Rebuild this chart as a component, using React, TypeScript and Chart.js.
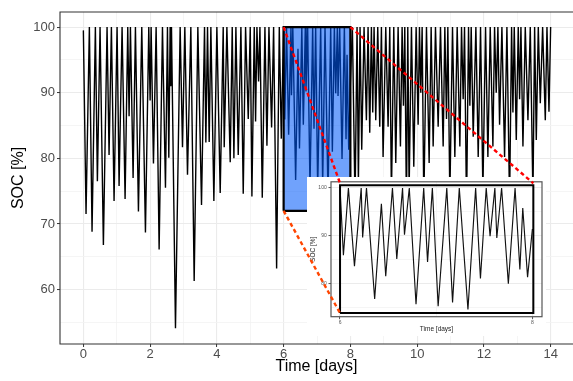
import React, { useEffect, useRef } from 'react';
import { Chart, registerables } from 'chart.js';

Chart.register(...registerables);

// ---- data (time in days, state of charge in %) ----
const socTime = [
  0.00, 0.08, 0.18, 0.26, 0.36, 0.42, 0.50, 0.60, 0.71, 0.77, 0.84, 0.92, 1.01, 1.07, 1.16, 1.25,
  1.33, 1.37, 1.41, 1.49, 1.56, 1.65, 1.75, 1.86, 1.96, 2.00, 2.03, 2.10, 2.18, 2.27, 2.37, 2.46,
  2.52, 2.56, 2.60, 2.62, 2.64, 2.76, 2.90, 2.97, 3.04, 3.12, 3.22, 3.32, 3.43, 3.54, 3.63, 3.67,
  3.72, 3.77, 3.82, 3.91, 4.00, 4.10, 4.19, 4.22, 4.30, 4.40, 4.46, 4.51, 4.57, 4.64, 4.72, 4.79,
  4.86, 4.94, 5.00, 5.05, 5.12, 5.16, 5.20, 5.25, 5.29, 5.36, 5.44, 5.50, 5.56, 5.64, 5.70, 5.79,
  5.87, 5.93,
  6.00, 6.035, 6.087, 6.15, 6.22, 6.235, 6.275, 6.36, 6.43, 6.475, 6.545, 6.59, 6.65, 6.67, 6.72,
  6.79, 6.87, 6.91, 6.96, 7.02, 7.11, 7.17, 7.24, 7.33, 7.41, 7.46, 7.52, 7.56, 7.61, 7.63, 7.68,
  7.75, 7.82, 7.87, 7.90, 7.95, 8.00,
  8.06, 8.14, 8.20, 8.24, 8.29, 8.34, 8.41, 8.48, 8.53, 8.58, 8.63, 8.67, 8.71, 8.76, 8.82, 8.88,
  8.93, 8.98, 9.06, 9.13, 9.18, 9.23, 9.30, 9.36, 9.43, 9.50, 9.55, 9.59, 9.63, 9.68, 9.72, 9.76,
  9.83, 9.90, 9.97, 10.03, 10.07, 10.11, 10.15, 10.20, 10.28, 10.36, 10.42, 10.48, 10.55, 10.63,
  10.70, 10.78, 10.83, 10.88, 10.92, 10.98, 11.06, 11.13, 11.20, 11.28, 11.33, 11.38, 11.42, 11.48,
  11.54, 11.58, 11.62, 11.68, 11.76, 11.83, 11.90, 11.97, 12.05, 12.12, 12.19, 12.27, 12.32, 12.37,
  12.42, 12.47, 12.54, 12.62, 12.69, 12.77, 12.83, 12.87, 12.91, 12.97, 13.03, 13.07, 13.11, 13.17,
  13.24, 13.32, 13.39, 13.47, 13.52, 13.57, 13.63, 13.69, 13.76, 13.84, 13.89, 13.95, 14.00,
];
const socValue = [
  99.5, 71.5, 100, 68.8, 100, 76.5, 100, 66.8, 100, 80.5, 100, 73.5, 100, 75.8, 100, 73.8,
  100, 86.4, 100, 77.0, 100, 71.9, 100, 68.7, 100, 88.8, 100, 79.2, 100, 66.1, 100, 75.5,
  100, 80.1, 100, 91.0, 100, 54.1, 100, 81.7, 100, 77.5, 100, 61.3, 100, 72.9, 100, 82.4,
  100, 82.5, 100, 73.5, 100, 74.7, 100, 81.7, 100, 79.4, 100, 80.0, 100, 80.5, 100, 74.6,
  100, 86.0, 100, 74.2, 100, 85.6, 100, 91.7, 100, 74.0, 100, 81.9, 100, 84.7, 100, 63.2,
  100, 83.0,
  100, 85.9, 100, 83.6, 100, 89.6, 100, 76.7, 96.7, 81.5, 100, 85.1, 100, 90.2, 100,
  75.6, 100, 84.5, 100, 75.2, 100, 76.0, 100, 74.5, 100, 81.0, 100, 89.9, 100, 89.5, 100,
  79.9, 100, 82.9, 95.8, 81.3, 91.4,
  100, 73.0, 100, 76.0, 100, 81.3, 100, 85.8, 100, 83.9, 100, 87.0, 100, 85.8, 100, 84.8,
  100, 80.2, 100, 84.8, 100, 74.0, 100, 79.3, 100, 81.8, 100, 88.0, 100, 72.0, 100, 75.0,
  100, 78.7, 100, 85.1, 100, 90.0, 100, 73.0, 100, 79.3, 100, 81.8, 100, 84.8,
  100, 81.8, 100, 86.0, 100, 74.0, 100, 80.2, 100, 81.8, 100, 89.0, 100, 72.0,
  100, 88.0, 100, 83.3, 100, 80.2, 100, 75.0, 100, 80.2, 100, 81.8, 100, 90.0,
  100, 85.1, 100, 80.2, 100, 73.0, 100, 87.0, 100, 82.8, 100, 89.0, 100, 81.8,
  100, 85.8, 100, 74.0, 100, 82.8, 100, 88.4, 100, 85.8, 100, 87.1, 100,
];

// ---- axes / ticks ----
const mainXRange = [-0.7, 14.67];
const mainYRange = [51.7, 102.3];
const mainXTicks = [0, 1, 2, 3, 4, 5, 6, 7, 8, 9, 10, 11, 12, 13, 14];
const mainXLabels = [0, 2, 4, 6, 8, 10, 12, 14];
const mainYTicks = [55, 60, 65, 70, 75, 80, 85, 90, 95, 100];
const mainYLabels = [60, 70, 80, 90, 100];

const insetXRange = [5.906, 8.1];
const insetYRange = [73.0, 101.3];
const insetXTicks = [6, 7, 8];
const insetXLabels = [6, 8];
const insetYTicks = [75, 80, 85, 90, 95, 100];
const insetYLabels = [80, 90, 100];

// ---- zoom window (main) and frame drawn in the inset ----
const zoomX = [6, 8];
const zoomY = [72, 100];
const insetFrameX = [6, 8.01];
const insetFrameY = [73.75, 100.6];

// connectors: main-chart point -> inset-chart point
const connectorFrom = [[6, 100], [8, 100], [6, 72]];
const connectorTo = [[6, 101.0], [8.01, 101.0], [6, 73.75]];

const FONT = "'Liberation Sans', Arial, Helvetica, sans-serif";

// layout (pixels)
const W = 573;
const H = 381;
const INSET_LEFT = 307;
const INSET_TOP = 177;
const INSET_W = 239;
const INSET_H = 159;

function axis(o: any) {
  const isMajor = (ctx: any) => ctx.tick && o.labels.includes(ctx.tick.value);
  return {
    type: 'linear',
    display: true,
    min: o.range[0],
    max: o.range[1],
    afterBuildTicks: (s: any) => {
      s.ticks = o.ticks.map((v: number) => ({ value: v }));
    },
    afterFit: (s: any) => {
      if (o.isX) s.height = o.size;
      else s.width = o.size;
    },
    ticks: {
      autoSkip: false,
      maxRotation: 0,
      minRotation: 0,
      padding: o.pad,
      color: o.labelColor,
      font: { family: FONT, size: o.fontSize },
      callback: (v: any) => (o.labels.includes(v) ? String(v) : ''),
    },
    grid: {
      color: (ctx: any) => (isMajor(ctx) ? '#EBEBEB' : '#F3F3F3'),
      lineWidth: (ctx: any) => (isMajor(ctx) ? 1.1 : 0.8),
      drawTicks: true,
      tickLength: o.tickLen,
      tickWidth: 1,
      tickColor: (ctx: any) => (isMajor(ctx) ? o.tickColor : 'rgba(0,0,0,0)'),
    },
    border: { display: false },
    title: {
      display: true,
      text: o.title,
      color: o.titleColor,
      font: { family: FONT, size: o.titleSize },
      padding: o.isX ? { top: 0, bottom: o.titlePad } : { top: o.titlePad, bottom: 0 },
    },
  };
}

export default function App() {
  const mainRef = useRef<HTMLCanvasElement>(null);
  const insetRef = useRef<HTMLCanvasElement>(null);
  const overlayRef = useRef<HTMLCanvasElement>(null);

  useEffect(() => {
    const points = socTime.map((t, i) => ({ x: t, y: socValue[i] }));
    const zoomPoints = points.filter((p) => p.x >= zoomX[0] && p.x <= zoomX[1]);

    const mainBorder = {
      id: 'mainBorder',
      afterDraw(chart: any) {
        const { ctx, chartArea: a } = chart;
        ctx.save();
        ctx.strokeStyle = '#333333';
        ctx.lineWidth = 1.1;
        ctx.beginPath();
        ctx.moveTo(a.right + 2, a.top);
        ctx.lineTo(a.left, a.top);
        ctx.lineTo(a.left, a.bottom);
        ctx.lineTo(a.right + 2, a.bottom);
        ctx.stroke();
        ctx.restore();
      },
    };

    const main = new Chart(mainRef.current as HTMLCanvasElement, {
      type: 'line',
      data: {
        datasets: [
          {
            data: points,
            borderColor: '#000000',
            borderWidth: 1.4,
            pointRadius: 0,
            tension: 0,
            fill: false,
            order: 3,
          } as any,
          {
            data: [
              { x: zoomX[0], y: zoomY[1] },
              { x: zoomX[1], y: zoomY[1] },
            ],
            borderWidth: 0,
            borderColor: 'rgba(0,0,0,0)',
            backgroundColor: 'rgba(0, 90, 250, 0.56)',
            pointRadius: 0,
            fill: { value: zoomY[0] },
            order: 2,
          } as any,
          {
            data: [
              { x: zoomX[0], y: zoomY[0] },
              { x: zoomX[0], y: zoomY[1] },
              { x: zoomX[1], y: zoomY[1] },
              { x: zoomX[1], y: zoomY[0] },
              { x: zoomX[0], y: zoomY[0] },
            ],
            borderColor: '#000000',
            borderWidth: 2.2,
            borderJoinStyle: 'miter',
            pointRadius: 0,
            fill: false,
            order: 1,
          } as any,
        ],
      },
      options: {
        animation: false,
        responsive: false,
        events: [],
        layout: { padding: { top: 12, left: 0, right: 0, bottom: 0 } },
        plugins: { legend: { display: false }, tooltip: { enabled: false } },
        scales: {
          x: axis({
            isX: true, range: mainXRange, ticks: mainXTicks, labels: mainXLabels,
            size: 37, pad: 0, tickLen: 3, fontSize: 13, labelColor: '#4D4D4D', tickColor: '#333333',
            title: 'Time [days]', titleSize: 16, titlePad: 4.5, titleColor: '#000000',
          }),
          y: axis({
            isX: false, range: mainYRange, ticks: mainYTicks, labels: mainYLabels,
            size: 60, pad: 2, tickLen: 3, fontSize: 13, labelColor: '#4D4D4D', tickColor: '#333333',
            title: 'SOC [%]', titleSize: 16, titlePad: 8.7, titleColor: '#000000',
          }),
        } as any,
      },
      plugins: [mainBorder],
    });

    const insetDeco = {
      id: 'insetDeco',
      beforeDraw(chart: any) {
        const { ctx, width, height } = chart;
        ctx.save();
        ctx.fillStyle = '#FFFFFF';
        ctx.fillRect(0, 0, width, height);
        ctx.restore();
      },
      afterDraw(chart: any) {
        const { ctx, chartArea: a } = chart;
        ctx.save();
        ctx.strokeStyle = '#555555';
        ctx.lineWidth = 1.2;
        ctx.strokeRect(a.left, a.top, a.right - a.left, a.bottom - a.top);
        ctx.restore();
      },
    };

    const inset = new Chart(insetRef.current as HTMLCanvasElement, {
      type: 'line',
      data: {
        datasets: [
          {
            data: zoomPoints,
            borderColor: '#111111',
            borderWidth: 1.15,
            pointRadius: 0,
            tension: 0,
            fill: false,
            order: 2,
          } as any,
          {
            data: [
              { x: insetFrameX[0], y: insetFrameY[0] },
              { x: insetFrameX[0], y: insetFrameY[1] },
              { x: insetFrameX[1], y: insetFrameY[1] },
              { x: insetFrameX[1], y: insetFrameY[0] },
              { x: insetFrameX[0], y: insetFrameY[0] },
            ],
            borderColor: '#000000',
            borderWidth: 2,
            borderJoinStyle: 'miter',
            pointRadius: 0,
            fill: false,
            order: 1,
          } as any,
        ],
      },
      options: {
        animation: false,
        responsive: false,
        events: [],
        layout: { padding: { top: 4.7, left: 0, right: 4, bottom: 0 } },
        plugins: { legend: { display: false }, tooltip: { enabled: false } },
        scales: {
          x: axis({
            isX: true, range: insetXRange, ticks: insetXTicks, labels: insetXLabels,
            size: 19.3, pad: 0.1, tickLen: 2.5, fontSize: 5, labelColor: '#555555', tickColor: '#555555',
            title: 'Time [days]', titleSize: 6.5, titlePad: 2.8, titleColor: '#222222',
          }),
          y: axis({
            isX: false, range: insetYRange, ticks: insetYTicks, labels: insetYLabels,
            size: 24, pad: 1.8, tickLen: 2.5, fontSize: 5, labelColor: '#555555', tickColor: '#555555',
            title: 'SOC [%]', titleSize: 6.5, titlePad: 2.4, titleColor: '#222222',
          }),
        } as any,
      },
      plugins: [insetDeco],
    });

    const connectorColors = ['#FF0000', '#FF0000', '#FF4500'];
    const connectors = {
      id: 'connectors',
      afterDraw(chart: any) {
        const { ctx } = chart;
        ctx.save();
        ctx.setLineDash([4, 3]);
        ctx.lineWidth = 2.4;
        ctx.lineCap = 'butt';
        connectorFrom.forEach((p, i) => {
          const q = connectorTo[i];
          const x0 = chart.scales.x.getPixelForValue(p[0]);
          const y0 = chart.scales.y.getPixelForValue(p[1]);
          const x1 = INSET_LEFT + inset.scales.x.getPixelForValue(q[0]);
          const y1 = INSET_TOP + inset.scales.y.getPixelForValue(q[1]);
          ctx.strokeStyle = connectorColors[i];
          ctx.beginPath();
          ctx.moveTo(x0, y0);
          ctx.lineTo(x1, y1);
          ctx.stroke();
        });
        ctx.restore();
      },
    };

    const overlay = new Chart(overlayRef.current as HTMLCanvasElement, {
      type: 'line',
      data: { datasets: [] },
      options: {
        animation: false,
        responsive: false,
        events: [],
        layout: { padding: { top: 12, left: 60, right: 0, bottom: 37 } },
        plugins: { legend: { display: false }, tooltip: { enabled: false } },
        scales: {
          x: { type: 'linear', display: false, min: mainXRange[0], max: mainXRange[1] },
          y: { type: 'linear', display: false, min: mainYRange[0], max: mainYRange[1] },
        } as any,
      },
      plugins: [connectors],
    });

    return () => {
      overlay.destroy();
      inset.destroy();
      main.destroy();
    };
  }, []);

  return (
    <div style={{ position: 'fixed', left: 0, top: 0, width: W, height: H, background: '#FFFFFF', overflow: 'hidden' }}>
      <canvas ref={mainRef} width={W} height={H} style={{ position: 'absolute', left: 0, top: 0, display: 'block' }} />
      <canvas
        ref={insetRef}
        width={INSET_W}
        height={INSET_H}
        style={{ position: 'absolute', left: INSET_LEFT, top: INSET_TOP, display: 'block' }}
      />
      <canvas
        ref={overlayRef}
        width={W}
        height={H}
        style={{ position: 'absolute', left: 0, top: 0, display: 'block', pointerEvents: 'none' }}
      />
    </div>
  );
}
